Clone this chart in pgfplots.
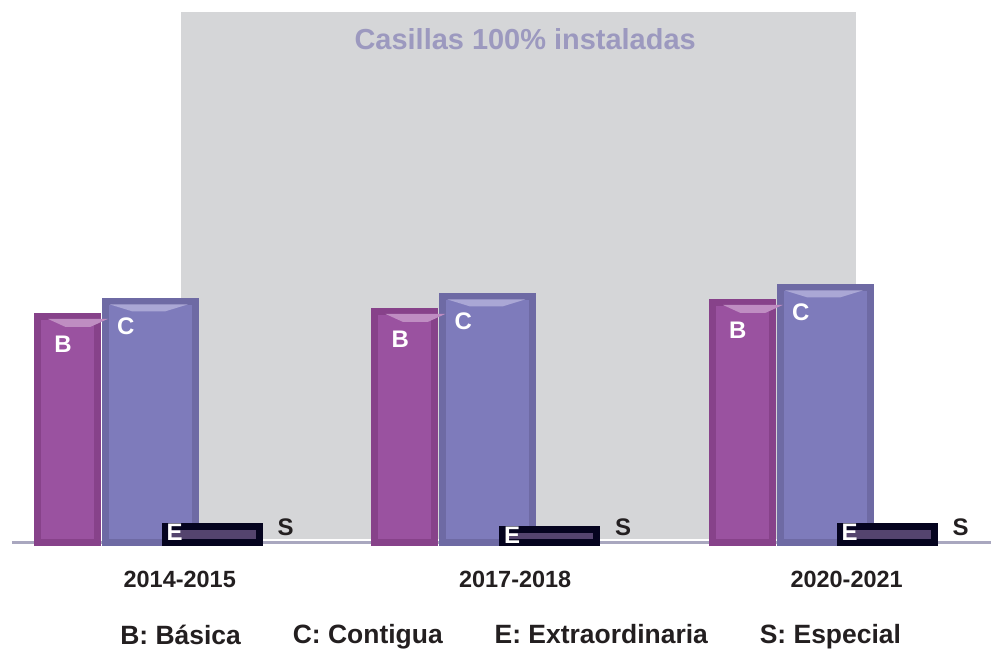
\documentclass[border=0pt]{standalone}
\usepackage{pgfplots}
\pgfplotsset{compat=1.18}
\usepackage{pgfplotstable}
\usepackage{fontspec}
\setmainfont{Liberation Sans}
\usetikzlibrary{shapes.geometric}

\definecolor{bggray}{HTML}{D5D6D8}
\definecolor{titlecol}{HTML}{9C99BF}
\definecolor{Bout}{HTML}{87428A}
\definecolor{Bin}{HTML}{9A52A0}
\definecolor{Bbev}{HTML}{BF8DC2}
\definecolor{Cout}{HTML}{6E6AA4}
\definecolor{Cin}{HTML}{7E7BBB}
\definecolor{Cbev}{HTML}{AAA7D5}
\definecolor{Eout}{HTML}{05041F}
\definecolor{Ein}{HTML}{54446E}
\definecolor{axisgray}{HTML}{A9A7BF}
\definecolor{textcol}{HTML}{231F20}

\pgfplotstableread{
x B C E S
0 227 242 16 0
1 232 247 13 0
2 241 256 16 0
}\datatable

\begin{document}
\begin{tikzpicture}
\begin{axis}[
  scale only axis,
  width=992pt, height=652pt,
  xmin=-0.532544, xmax=2.402367,
  ymin=-108.5, ymax=543.5,
  clip=false,
  axis line style={draw=none},
  major tick length=0pt,
  ytick=\empty,
  xtick={0,0.994,1.976},
  xticklabels={2014-2015,2017-2018,2020-2021},
  xticklabel style={anchor=center, yshift=72pt, text=textcol,
    font=\fontsize{23.5}{26}\selectfont\bfseries},
  title={Casillas 100\% instaladas},
  title style={at={(0.5302,0.931)}, anchor=center, text=titlecol,
    font=\fontsize{29}{33}\selectfont\bfseries},
  legend columns=4,
  legend style={at={(0.5156,0.0245)}, anchor=center, draw=none, fill=none,
    text=textcol, font=\fontsize{26.5}{30}\selectfont\bfseries,
    /tikz/every even column/.append style={column sep=48pt}},
  ybar,
]
% background panel and baseline
\fill[bggray] (axis cs:0.003,3.5) rectangle (axis cs:2.003,531.5);
\draw[axisgray, line width=3pt] (axis cs:-0.497,0) -- (axis cs:2.402367,0);

% B: Basica
\addplot[ybar, fill=Bin, draw=Bout, line width=7pt, bar width=60pt, bar shift=-112.5pt,
  legend image code/.code={},
  nodes near coords={B},
  every node near coord/.style={anchor=center, xshift=-117pt, yshift=-28.5pt,
    text=white, font=\fontsize{24}{24}\selectfont\bfseries}]
  table[x=x,y=B]{\datatable};
\addlegendentry{B: Básica}
\addplot[ybar, draw=none, fill=none, bar width=60pt, bar shift=-112.5pt, forget plot,
  nodes near coords={},
  every node near coord/.style={anchor=center, xshift=-102pt, yshift=-6.8pt,
    trapezium, trapezium angle=125, trapezium stretches=true,
    minimum width=60pt, minimum height=8pt, inner sep=0.5pt, fill=Bbev}]
  table[x=x,y=B]{\datatable};

% C: Contigua
\addplot[ybar, fill=Cin, draw=Cout, line width=7pt, bar width=90pt, bar shift=-29.5pt,
  legend image code/.code={},
  nodes near coords={C},
  every node near coord/.style={anchor=center, xshift=-54pt, yshift=-25.2pt,
    text=white, font=\fontsize{24}{24}\selectfont\bfseries}]
  table[x=x,y=C]{\datatable};
\addlegendentry{C: Contigua}
\addplot[ybar, draw=none, fill=none, bar width=90pt, bar shift=-29.5pt, forget plot,
  nodes near coords={},
  every node near coord/.style={anchor=center, xshift=-31pt, yshift=-6.8pt,
    trapezium, trapezium angle=125, trapezium stretches=true,
    minimum width=78pt, minimum height=7pt, inner sep=0.5pt, fill=Cbev}]
  table[x=x,y=C]{\datatable};

% E: Extraordinaria
\addplot[ybar, fill=Ein, draw=Eout, line width=7pt, bar width=94pt, bar shift=32.5pt,
  legend image code/.code={},
  nodes near coords={E},
  every node near coord/.style={anchor=center, xshift=-5pt, yshift=-5.5pt,
    text=white, font=\fontsize{24}{24}\selectfont\bfseries}]
  table[x=x,y=E]{\datatable};
\addlegendentry{E: Extraordinaria}

% S: Especial
\addplot[ybar, draw=none, fill=none, bar width=1pt, bar shift=106pt,
  legend image code/.code={},
  nodes near coords={S},
  every node near coord/.style={anchor=center, xshift=106pt, yshift=15.5pt,
    text=textcol, font=\fontsize{24}{24}\selectfont\bfseries}]
  table[x=x,y=S]{\datatable};
\addlegendentry{S: Especial}
\end{axis}
\end{tikzpicture}
\end{document}
